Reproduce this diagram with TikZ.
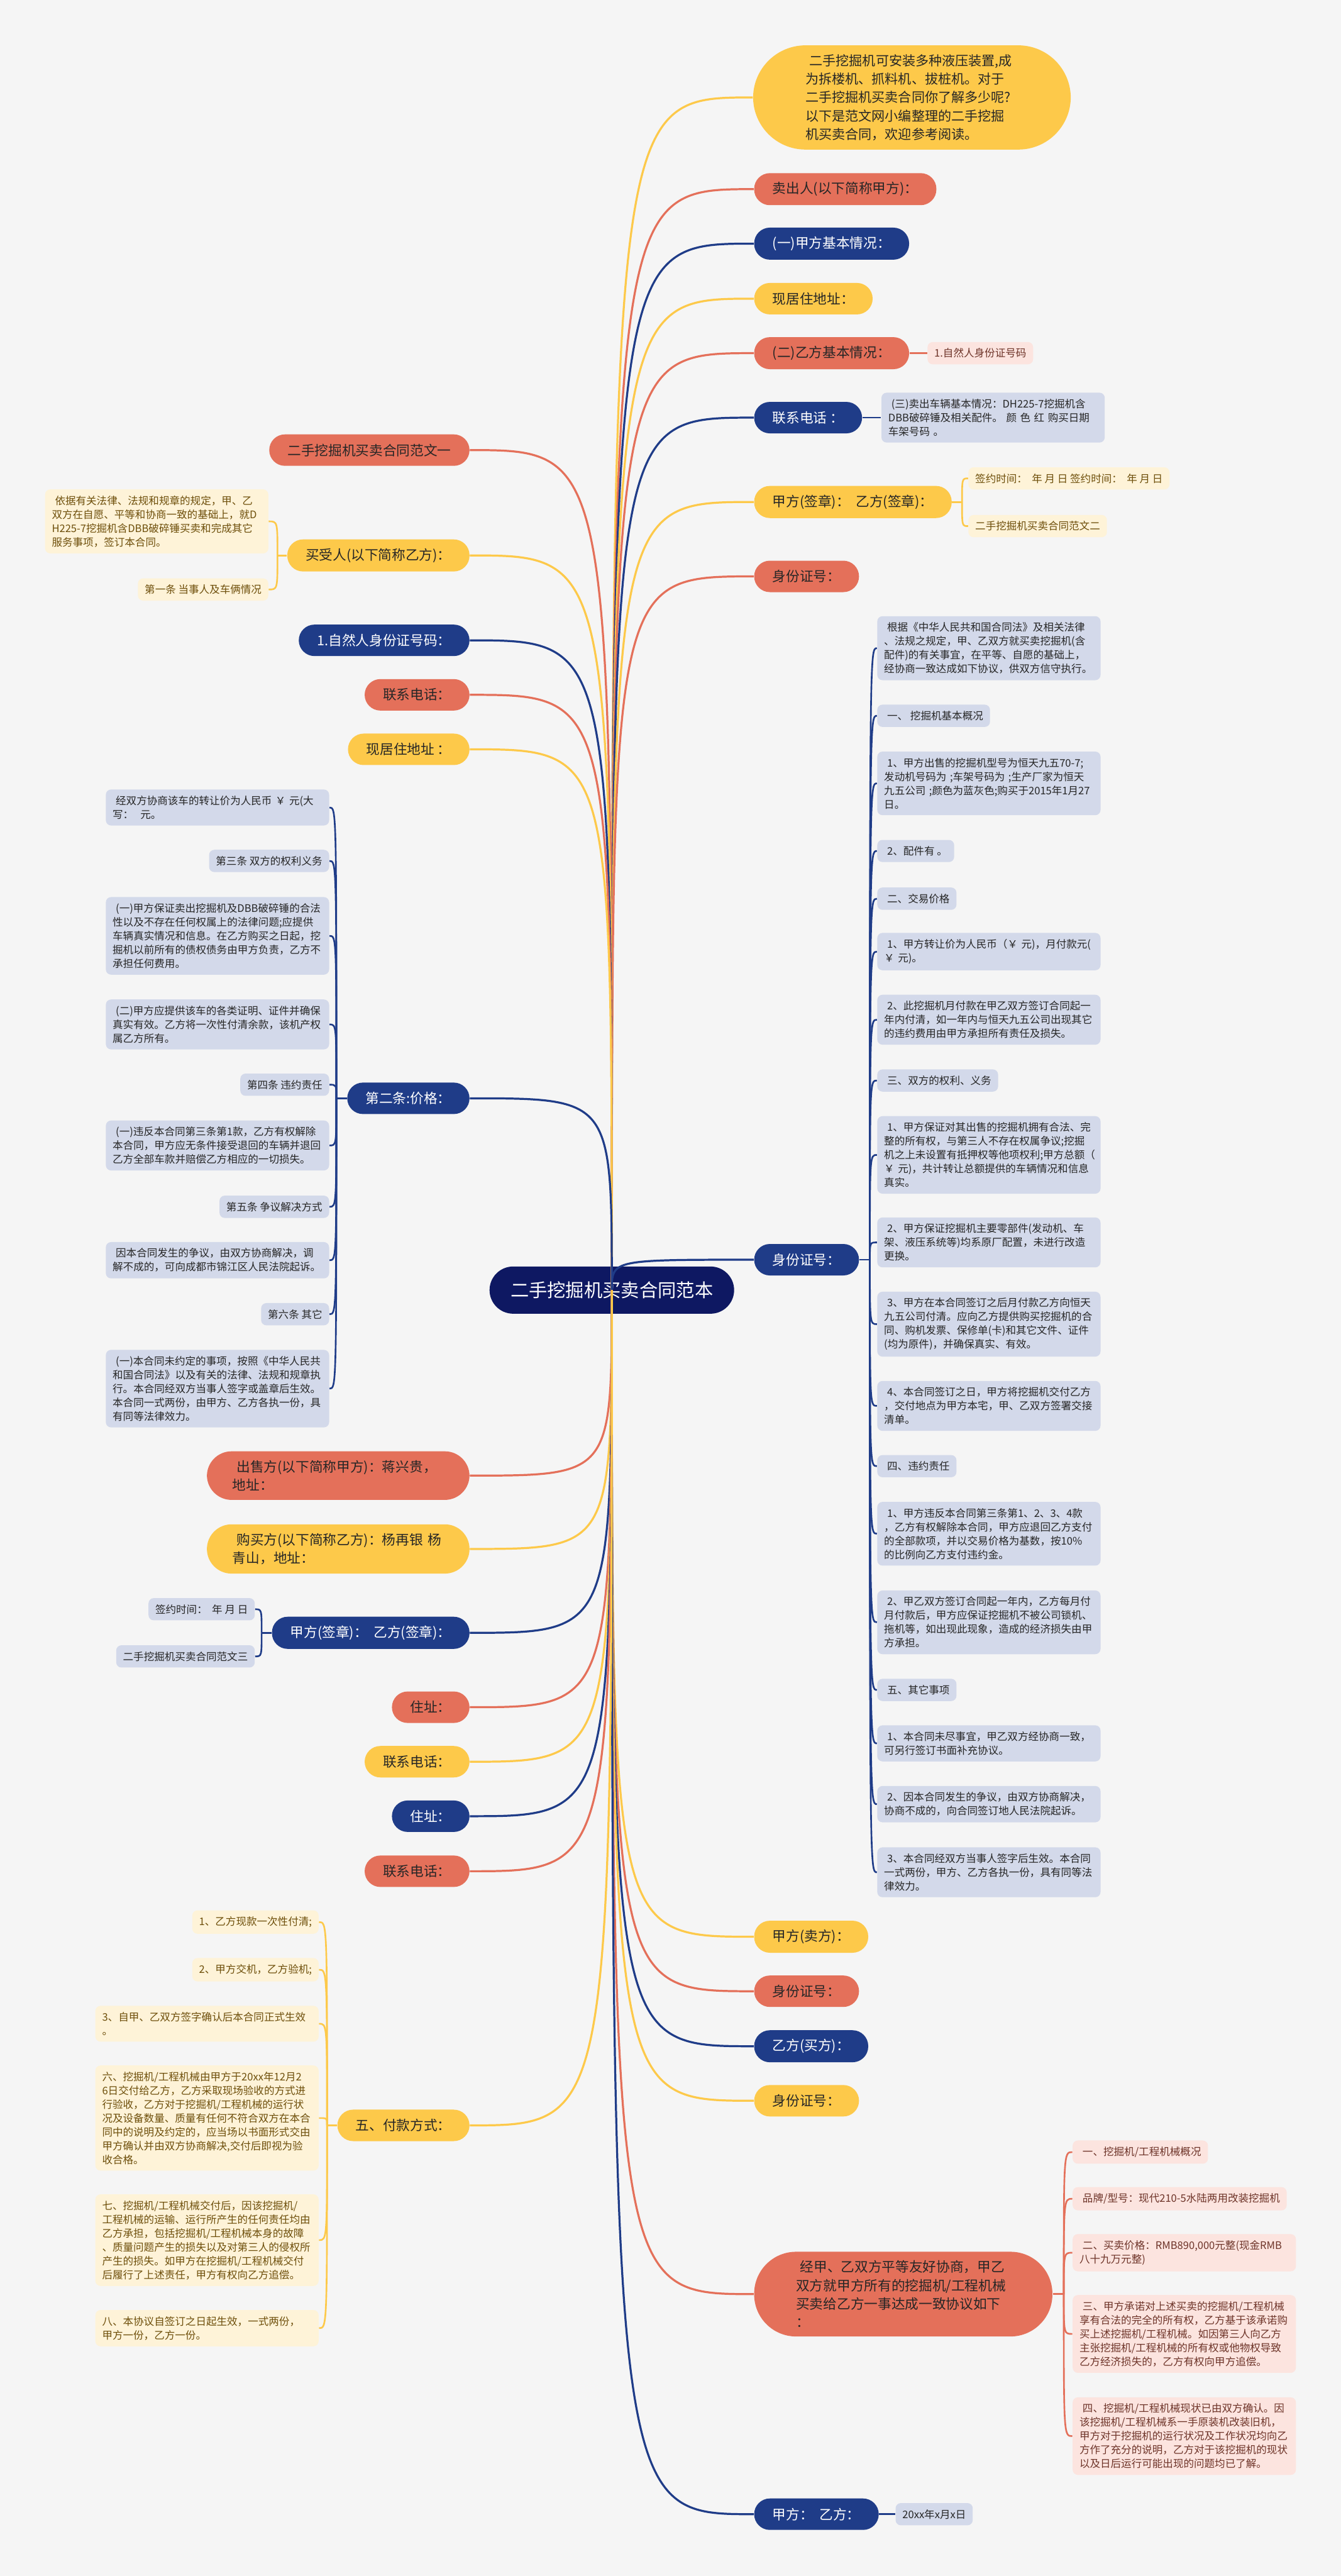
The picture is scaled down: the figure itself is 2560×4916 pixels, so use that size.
\documentclass[tikz,border=0pt]{standalone}
\usepackage{fontspec}
\setmainfont{Noto Sans CJK SC}
\usepackage{tikz}
\definecolor{cBg}{HTML}{F5F5F5}
\definecolor{cYel}{HTML}{FDC94A}
\definecolor{cRed}{HTML}{E4705A}
\definecolor{cNav}{HTML}{1F3C88}
\definecolor{cRoot}{HTML}{0E1862}
\definecolor{cGry}{HTML}{D3D9EA}
\definecolor{cLYel}{HTML}{FEF3D8}
\definecolor{cPnk}{HTML}{FCE4DF}
\definecolor{cInk}{HTML}{262626}
\definecolor{cBrn}{HTML}{6E4F0B}
\definecolor{cRbr}{HTML}{6E3429}
\newcommand{\lsp}{\hspace*{.3em}}

\begin{document}
\begin{tikzpicture}[x=0.01cm,y=-0.01cm,
  pill/.style={rounded corners=0.3cm,minimum height=0.6cm,inner xsep=0.35cm,inner ysep=0.17cm,text=cInk,font=\fontsize{7.4}{10}\selectfont},
  pY/.style={pill,fill=cYel},
  pR/.style={pill,fill=cRed},
  pN/.style={pill,fill=cNav,text=white},
  leaf/.style={rounded corners=0.1cm,inner xsep=0.13cm,inner ysep=0.12cm,align=left,font=\fontsize{5.65}{7.5}\selectfont},
  lG/.style={leaf,fill=cGry,text=cInk},
  lY/.style={leaf,fill=cLYel,text=cBrn},
  lP/.style={leaf,fill=cPnk,text=cRbr},
  wideleaf/.style={text width=4cm},
  link/.style={line width=1.1pt},
  twig/.style={line width=0.9pt}]
  \fill[cBg] (0,0) rectangle (2560,4916);
  \useasboundingbox (0,0) rectangle (2560,4916);

  \node[fill=cRoot,text=white,rounded corners=0.45cm,minimum height=0.9cm,inner xsep=0.4cm,font=\fontsize{10}{12}\selectfont] (root) at (1168,2462) {二手挖掘机买卖合同范本};

  % right
  \node[pY,anchor=west,align=left,text width=4.06cm,inner xsep=1cm,rounded corners=1cm,font=\fontsize{7.2}{10}\selectfont] (r1) at (1437,186)
    {\lsp 二手挖掘机可安装多种液压装置,成\\为拆楼机、抓料机、拔桩机。对于\\二手挖掘机买卖合同你了解多少呢?\\以下是范文网小编整理的二手挖掘\\机买卖合同，欢迎参考阅读。};
  \node[pR,anchor=west] (r2) at (1439,361) {卖出人(以下简称甲方)：};
  \node[pN,anchor=west] (r3) at (1439,465) {(一)甲方基本情况：};
  \node[pY,anchor=west] (r4) at (1439,570) {现居住地址：};
  \node[pR,anchor=west] (r5) at (1439,674) {(二)乙方基本情况：};
  \node[pN,anchor=west] (r6) at (1439,797) {联系电话 ：};
  \node[pY,anchor=west] (r7) at (1439,958) {甲方(签章)：\ \ 乙方(签章)：};
  \node[pR,anchor=west] (r8) at (1439,1100) {身份证号：};
  \node[pN,anchor=west] (r9) at (1439,2404) {身份证号：};
  \node[pY,anchor=west] (r10) at (1439,3696) {甲方(卖方)：};
  \node[pR,anchor=west] (r11) at (1439,3800) {身份证号：};
  \node[pN,anchor=west] (r12) at (1439,3905) {乙方(买方)：};
  \node[pY,anchor=west] (r13) at (1439,4009) {身份证号：};
  \node[pR,anchor=west,align=left,text width=4.09cm,inner xsep=0.8cm,rounded corners=0.8cm] (r14) at (1439,4378)
    {\lsp 经甲、乙双方平等友好协商，甲乙\\双方就甲方所有的挖掘机/工程机械\\买卖给乙方一事达成一致协议如下\\：};
  \node[pN,anchor=west] (r15) at (1439,4798) {甲方：\ \ 乙方：};

  \node[lP,anchor=west] (r5a) at (1770,674) {1.自然人身份证号码};
  \node[lG,wideleaf,anchor=west] (r6a) at (1682,797) {\lsp(三)卖出车辆基本情况：DH225-7挖掘机含\\DBB破碎锤及相关配件。 颜 色 红 购买日期\\车架号码 。};
  \node[lY,anchor=west] (r7a) at (1848,913) {签约时间：\ \ 年 月 日 签约时间：\ \ 年 月 日};
  \node[lY,anchor=west] (r7b) at (1848,1004) {二手挖掘机买卖合同范文二};
  \node[lG,anchor=west] (r15a) at (1709,4798) {20xx年x月x日};

  \node[lG,wideleaf,anchor=west] (c1) at (1674,1237) {\lsp 根据《中华人民共和国合同法》及相关法律\\、法规之规定，甲、乙双方就买卖挖掘机(含\\配件)的有关事宜，在平等、自愿的基础上，\\经协商一致达成如下协议，供双方信守执行。};
  \node[lG,anchor=west] (c2) at (1674,1366) {\lsp 一、 挖掘机基本概况};
  \node[lG,wideleaf,anchor=west] (c3) at (1674,1495) {\lsp 1、甲方出售的挖掘机型号为恒天九五70-7;\\发动机号码为 ;车架号码为 ;生产厂家为恒天\\九五公司 ;颜色为蓝灰色;购买于2015年1月27\\日。};
  \node[lG,anchor=west] (c4) at (1674,1624) {\lsp 2、配件有 。};
  \node[lG,anchor=west] (c5) at (1674,1715) {\lsp 二、交易价格};
  \node[lG,wideleaf,anchor=west] (c6) at (1674,1816) {\lsp 1、甲方转让价为人民币（￥ 元)，月付款元(\\￥ 元)。};
  \node[lG,wideleaf,anchor=west] (c7) at (1674,1946) {\lsp 2、此挖掘机月付款在甲乙双方签订合同起一\\年内付清，如一年内与恒天九五公司出现其它\\的违约费用由甲方承担所有责任及损失。};
  \node[lG,anchor=west] (c8) at (1674,2062) {\lsp 三、双方的权利、义务};
  \node[lG,wideleaf,anchor=west] (c9) at (1674,2204) {\lsp 1、甲方保证对其出售的挖掘机拥有合法、完\\整的所有权，与第三人不存在权属争议;挖掘\\机之上未设置有抵押权等他项权利;甲方总额（\\￥ 元)，共计转让总额提供的车辆情况和信息\\真实。};
  \node[lG,wideleaf,anchor=west] (c10) at (1674,2371) {\lsp 2、甲方保证挖掘机主要零部件(发动机、车\\架、液压系统等)均系原厂配置，未进行改造\\更换。};
  \node[lG,wideleaf,anchor=west] (c11) at (1674,2527) {\lsp 3、甲方在本合同签订之后月付款乙方向恒天\\九五公司付清。应向乙方提供购买挖掘机的合\\同、购机发票、保修单(卡)和其它文件、证件\\(均为原件)，并确保真实、有效。};
  \node[lG,wideleaf,anchor=west] (c12) at (1674,2683) {\lsp 4、本合同签订之日，甲方将挖掘机交付乙方\\，交付地点为甲方本宅，甲、乙双方签署交接\\清单。};
  \node[lG,anchor=west] (c13) at (1674,2798) {\lsp 四、违约责任};
  \node[lG,wideleaf,anchor=west] (c14) at (1674,2927) {\lsp 1、甲方违反本合同第三条第1、2、3、4款\\，乙方有权解除本合同，甲方应退回乙方支付\\的全部款项，并以交易价格为基数，按10\%\\的比例向乙方支付违约金。};
  \node[lG,wideleaf,anchor=west] (c15) at (1674,3096) {\lsp 2、甲乙双方签订合同起一年内，乙方每月付\\月付款后，甲方应保证挖掘机不被公司锁机、\\拖机等，如出现此现象，造成的经济损失由甲\\方承担。};
  \node[lG,anchor=west] (c16) at (1674,3225) {\lsp 五、其它事项};
  \node[lG,wideleaf,anchor=west] (c17) at (1674,3327) {\lsp 1、本合同未尽事宜，甲乙双方经协商一致，\\可另行签订书面补充协议。};
  \node[lG,wideleaf,anchor=west] (c18) at (1674,3443) {\lsp 2、因本合同发生的争议，由双方协商解决，\\协商不成的，向合同签订地人民法院起诉。};
  \node[lG,wideleaf,anchor=west] (c19) at (1674,3573) {\lsp 3、本合同经双方当事人签字后生效。本合同\\一式两份，甲方、乙方各执一份，具有同等法\\律效力。};

  \node[lP,anchor=west] (p1) at (2047,4107) {\lsp 一、挖掘机/工程机械概况};
  \node[lP,anchor=west] (p2) at (2047,4196) {\lsp 品牌/型号：现代210-5水陆两用改装挖掘机};
  \node[lP,wideleaf,anchor=west] (p3) at (2047,4299) {\lsp 二、买卖价格：RMB890,000元整(现金RMB\\八十九万元整)};
  \node[lP,wideleaf,anchor=west] (p4) at (2047,4454) {\lsp 三、甲方承诺对上述买卖的挖掘机/工程机械\\享有合法的完全的所有权，乙方基于该承诺购\\买上述挖掘机/工程机械。如因第三人向乙方\\主张挖掘机/工程机械的所有权或他物权导致\\乙方经济损失的，乙方有权向甲方追偿。};
  \node[lP,wideleaf,anchor=west] (p5) at (2047,4649) {\lsp 四、挖掘机/工程机械现状已由双方确认。因\\该挖掘机/工程机械系一手原装机改装旧机，\\甲方对于挖掘机的运行状况及工作状况均向乙\\方作了充分的说明，乙方对于该挖掘机的现状\\以及日后运行可能出现的问题均已了解。};

  % left
  \node[pR,anchor=east] (l1) at (897,859) {二手挖掘机买卖合同范文一};
  \node[pY,anchor=east] (l2) at (897,1060) {买受人(以下简称乙方)：};
  \node[pN,anchor=east] (l3) at (897,1222) {1.自然人身份证号码：};
  \node[pR,anchor=east] (l4) at (897,1326) {联系电话：};
  \node[pY,anchor=east] (l5) at (897,1430) {现居住地址 ：};
  \node[pN,anchor=east] (l6) at (897,2096) {第二条:价格：};
  \node[pR,anchor=east,align=left,text width=4.03cm,inner xsep=0.49cm,rounded corners=0.47cm] (l7) at (897,2816) {\lsp 出售方(以下简称甲方)：蒋兴贵，\\地址：};
  \node[pY,anchor=east,align=left,text width=4.03cm,inner xsep=0.49cm,rounded corners=0.47cm] (l8) at (897,2956) {\lsp 购买方(以下简称乙方)：杨再银 杨\\青山，地址：};
  \node[pN,anchor=east] (l9) at (897,3116) {甲方(签章)：\ \ 乙方(签章)：};
  \node[pR,anchor=east] (l10) at (897,3258) {住址：};
  \node[pY,anchor=east] (l11) at (897,3362) {联系电话：};
  \node[pN,anchor=east] (l12) at (897,3466) {住址：};
  \node[pR,anchor=east] (l13) at (897,3571) {联系电话：};
  \node[pY,anchor=east] (l14) at (897,4056) {五、付款方式：};

  \node[lY,wideleaf,anchor=east] (l2a) at (513,995) {\lsp 依据有关法律、法规和规章的规定，甲、乙\\双方在自愿、平等和协商一致的基础上，就D\\H225-7挖掘机含DBB破碎锤买卖和完成其它\\服务事项，签订本合同。};
  \node[lY,anchor=east] (l2b) at (513,1125) {第一条 当事人及车俩情况};
  \node[lG,anchor=east] (l9a) at (487,3071) {签约时间：\ \ 年 月 日};
  \node[lG,anchor=east] (l9b) at (487,3161) {二手挖掘机买卖合同范文三};

  \node[lG,wideleaf,anchor=east] (g1) at (629,1541) {\lsp 经双方协商该车的转让价为人民币 ￥ 元(大\\写：\ \ 元。};
  \node[lG,anchor=east] (g2) at (629,1643) {第三条 双方的权利义务};
  \node[lG,wideleaf,anchor=east] (g3) at (629,1786) {\lsp(一)甲方保证卖出挖掘机及DBB破碎锤的合法\\性以及不存在任何权属上的法律问题;应提供\\车辆真实情况和信息。在乙方购买之日起，挖\\掘机以前所有的债权债务由甲方负责，乙方不\\承担任何费用。};
  \node[lG,wideleaf,anchor=east] (g4) at (629,1955) {\lsp(二)甲方应提供该车的各类证明、证件并确保\\真实有效。乙方将一次性付清余款，该机产权\\属乙方所有。};
  \node[lG,anchor=east] (g5) at (629,2070) {第四条 违约责任};
  \node[lG,wideleaf,anchor=east] (g6) at (629,2186) {\lsp(一)违反本合同第三条第1款，乙方有权解除\\本合同，甲方应无条件接受退回的车辆并退回\\乙方全部车款并赔偿乙方相应的一切损失。};
  \node[lG,anchor=east] (g7) at (629,2303) {第五条 争议解决方式};
  \node[lG,wideleaf,anchor=east] (g8) at (629,2405) {\lsp 因本合同发生的争议，由双方协商解决，调\\解不成的，可向成都市锦江区人民法院起诉。};
  \node[lG,anchor=east] (g9) at (629,2508) {第六条 其它};
  \node[lG,wideleaf,anchor=east] (g10) at (629,2650) {\lsp(一)本合同未约定的事项，按照《中华人民共\\和国合同法》以及有关的法律、法规和规章执\\行。本合同经双方当事人签字或盖章后生效。\\本合同一式两份，由甲方、乙方各执一份，具\\有同等法律效力。};

  \node[lY,anchor=east] (y1) at (609,3668) {1、乙方现款一次性付清;};
  \node[lY,anchor=east] (y2) at (609,3759) {2、甲方交机，乙方验机;};
  \node[lY,wideleaf,anchor=east] (y3) at (609,3862) {3、自甲、乙双方签字确认后本合同正式生效\\。};
  \node[lY,wideleaf,anchor=east] (y4) at (609,4042) {六、挖掘机/工程机械由甲方于20xx年12月2\\6日交付给乙方，乙方采取现场验收的方式进\\行验收，乙方对于挖掘机/工程机械的运行状\\况及设备数量、质量有任何不符合双方在本合\\同中的说明及约定的，应当场以书面形式交由\\甲方确认并由双方协商解决,交付后即视为验\\收合格。};
  \node[lY,wideleaf,anchor=east] (y5) at (609,4275) {七、挖掘机/工程机械交付后，因该挖掘机/\\工程机械的运输、运行所产生的任何责任均由\\乙方承担，包括挖掘机/工程机械本身的故障\\、质量问题产生的损失以及对第三人的侵权所\\产生的损失。如甲方在挖掘机/工程机械交付\\后履行了上述责任，甲方有权向乙方追偿。};
  \node[lY,wideleaf,anchor=east] (y6) at (609,4443) {八、本协议自签订之日起生效，一式两份，\\甲方一份，乙方一份。};

  % links
  \foreach \n/\col in {r1/cYel,r2/cRed,r3/cNav,r4/cYel,r5/cRed,r6/cNav,r7/cYel,r8/cRed,r9/cNav,r10/cYel,r11/cRed,r12/cNav,r13/cYel,r14/cRed,r15/cNav}
    \draw[link,draw=\col] (root.center) .. controls (root.center |- \n.west) .. (\n.west);
  \foreach \n/\col in {l1/cRed,l2/cYel,l3/cNav,l4/cRed,l5/cYel,l6/cNav,l7/cRed,l8/cYel,l9/cNav,l10/cRed,l11/cYel,l12/cNav,l13/cRed,l14/cYel}
    \draw[link,draw=\col] (root.center) .. controls (root.center |- \n.east) .. (\n.east);

  \draw[twig,cRed] (r5.east) -- (r5a.west);
  \draw[twig,cNav] (r6.east) -- (r6a.west);
  \draw[twig,cNav] (r15.east) -- (r15a.west);

  \coordinate (r7h) at ([xshift=0.19cm]r7.east);
  \coordinate (r9h) at ([xshift=0.2cm]r9.east);
  \coordinate (r14h) at ([xshift=0.21cm]r14.east);
  \coordinate (l2h) at ([xshift=-0.18cm]l2.west);
  \coordinate (l6h) at ([xshift=-0.2cm]l6.west);
  \coordinate (l9h) at ([xshift=-0.19cm]l9.west);
  \coordinate (l14h) at ([xshift=-0.19cm]l14.west);

  \draw[twig,cYel] (r7.east) -- (r7h);
  \foreach \n in {r7a,r7b}
    \draw[twig,cYel] (r7h) .. controls (r7h |- \n.west) .. (\n.west);
  \draw[twig,cNav] (r9.east) -- (r9h);
  \foreach \i in {1,...,19}
    \draw[twig,cNav] (r9h) .. controls (r9h |- c\i.west) .. (c\i.west);
  \draw[twig,cRed] (r14.east) -- (r14h);
  \foreach \i in {1,...,5}
    \draw[twig,cRed] (r14h) .. controls (r14h |- p\i.west) .. (p\i.west);

  \draw[twig,cYel] (l2.west) -- (l2h);
  \foreach \n in {l2a,l2b}
    \draw[twig,cYel] (l2h) .. controls (l2h |- \n.east) .. (\n.east);
  \draw[twig,cNav] (l6.west) -- (l6h);
  \foreach \i in {1,...,10}
    \draw[twig,cNav] (l6h) .. controls (l6h |- g\i.east) .. (g\i.east);
  \draw[twig,cNav] (l9.west) -- (l9h);
  \foreach \n in {l9a,l9b}
    \draw[twig,cNav] (l9h) .. controls (l9h |- \n.east) .. (\n.east);
  \draw[twig,cYel] (l14.west) -- (l14h);
  \foreach \i in {1,...,6}
    \draw[twig,cYel] (l14h) .. controls (l14h |- y\i.east) .. (y\i.east);
\end{tikzpicture}
\end{document}
